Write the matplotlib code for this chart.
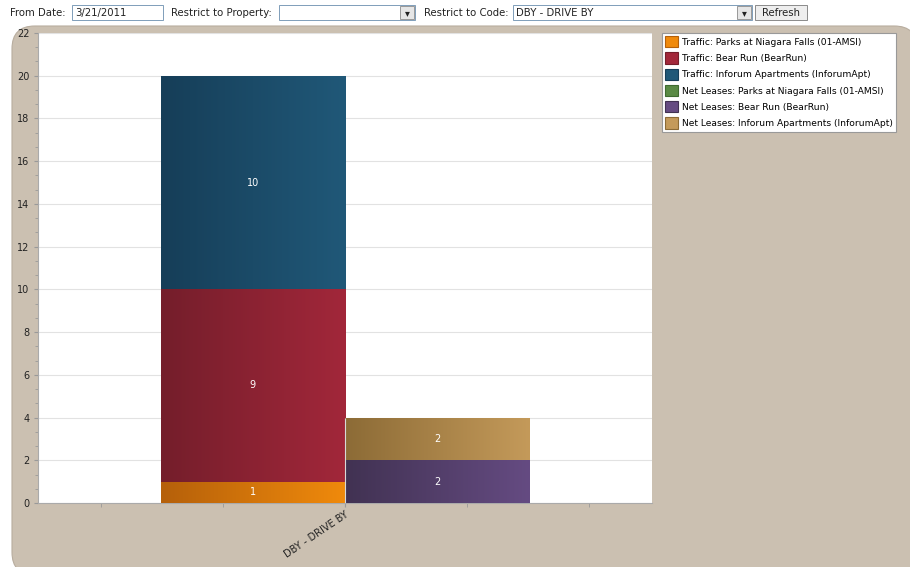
import numpy as np
import matplotlib
matplotlib.use('Agg')
import matplotlib.pyplot as plt
from matplotlib.patches import FancyBboxPatch, Rectangle
from matplotlib.colors import LinearSegmentedColormap
from matplotlib.ticker import MultipleLocator

category = 'DBY - DRIVE BY'
groups = ['Traffic', 'Net Leases']
properties = ['Parks at Niagara Falls (01-AMSI)', 'Bear Run (BearRun)', 'Inforum Apartments (InforumApt)']
traffic = [1, 9, 10]
net_leases = [0, 2, 2]

# dark -> light horizontal gradient per series
traffic_cols = [('#b5600a', '#f08a0c'), ('#741e2b', '#a2273a'), ('#163e58', '#205878')]
lease_cols = [('#3f6b31', '#5a8a45'), ('#413252', '#654b82'), ('#8c6b36', '#c49a5a')]

W, H = 910, 567
fig = plt.figure(figsize=(W / 100, H / 100), dpi=100)
fig.patch.set_facecolor('white')

def fx(x):
    return x / W

def fy(y):
    return 1 - y / H

# tan panel
panel = FancyBboxPatch((fx(12), fy(575)), fx(905), fy(26) - fy(575),
                       boxstyle='round,pad=0,rounding_size=0.025',
                       transform=fig.transFigure, facecolor='#cbc0b1',
                       edgecolor='#b8ad9f', lw=0.8, mutation_aspect=W / H,
                       zorder=-10)
fig.patches.append(panel)

# top controls
tfont = dict(fontsize=7.3, family='DejaVu Sans', color='#222222', va='center')
fig.text(fx(10), fy(13), 'From Date:', **tfont)
fig.text(fx(171), fy(13), 'Restrict to Property:', **tfont)
fig.text(fx(424), fy(13), 'Restrict to Code:', **tfont)
for x0, x1 in [(72, 163), (279, 415), (513, 752)]:
    fig.patches.append(Rectangle((fx(x0), fy(20)), fx(x1 - x0), fy(5) - fy(20),
                                 transform=fig.transFigure, facecolor='white',
                                 edgecolor='#7f9db9', lw=0.7))
fig.text(fx(75), fy(13), '3/21/2011', **tfont)
fig.text(fx(516), fy(13), 'DBY - DRIVE BY', **tfont)
for x0 in [400, 737]:
    fig.patches.append(Rectangle((fx(x0), fy(19)), fx(14), fy(6) - fy(19),
                                 transform=fig.transFigure, facecolor='#e6e6e6',
                                 edgecolor='#8a8a8a', lw=0.6))
    fig.text(fx(x0 + 7), fy(13), '\u25be', ha='center', fontsize=7,
             color='#222222', va='center')
fig.patches.append(Rectangle((fx(755), fy(20)), fx(52), fy(5) - fy(20),
                             transform=fig.transFigure, facecolor='#eeeeee',
                             edgecolor='#8a8a8a', lw=0.7))
fig.text(fx(781), fy(13), 'Refresh', ha='center', fontsize=7.3,
         color='#222222', va='center')

# chart
ax = fig.add_axes([fx(38), fy(503), fx(652 - 38), fy(33) - fy(503)])
ax.set_facecolor('white')

grad = np.linspace(0, 1, 256).reshape(1, -1)

def draw_stack(x_left, values, cols):
    bottom = 0
    for v, (c0, c1) in zip(values, cols):
        if v > 0:
            bar = ax.bar(x_left, v, width=1, bottom=bottom, align='edge',
                         color=c1, edgecolor='none', zorder=2)[0]
            cmap = LinearSegmentedColormap.from_list('g', [c0, c1])
            im = ax.imshow(grad, cmap=cmap, aspect='auto',
                           extent=[x_left, x_left + 1, bottom, bottom + v],
                           zorder=3, interpolation='bilinear')
            im.set_clip_path(bar)
            ax.text(x_left + 0.5, bottom + v / 2, str(v), color='white',
                    ha='center', va='center', fontsize=7, zorder=4)
        bottom += v

draw_stack(-1, traffic, traffic_cols)
draw_stack(0, net_leases, lease_cols)
ax.vlines(0, 0, min(sum(traffic), sum(net_leases)), color='#d8d8d8', lw=0.8, zorder=5)
ax.set_xlim(-1.665, 1.665)
ax.set_ylim(0, 22)

ax.yaxis.set_major_locator(MultipleLocator(2))
ax.yaxis.set_minor_locator(MultipleLocator(2 / 3))
ax.grid(axis='y', which='major', color='#e2e2e2', lw=0.8, zorder=0)
ax.set_axisbelow(True)
ax.tick_params(axis='y', which='major', length=3, color='#999999',
               labelsize=7, labelcolor='#222222', pad=3)
ax.tick_params(axis='y', which='minor', length=2, color='#999999')
step = 122.5 / 185
ax.set_xticks([-2 * step, -step, step, 2 * step], minor=True)
ax.set_xticks([0])
ax.set_xticklabels([category], rotation=34, ha='right', fontsize=7,
                   color='#222222', rotation_mode='anchor')
ax.tick_params(axis='x', which='both', length=3, color='#999999', pad=2)
for side in ['top', 'right']:
    ax.spines[side].set_visible(False)
ax.spines['left'].set_color('#aaaaaa')
ax.spines['bottom'].set_color('#aaaaaa')

# legend
handles = []
labels = []
for g, cols in zip(groups, [traffic_cols, lease_cols]):
    for p, (c0, c1) in zip(properties, cols):
        handles.append(Rectangle((0, 0), 1, 1, facecolor=c1, edgecolor=c0, lw=0.8))
        labels.append(f'{g}: {p}')
leg = fig.legend(handles, labels, loc='upper left',
                 bbox_to_anchor=(fx(662), fy(33)), fontsize=6.6,
                 frameon=True, fancybox=False, framealpha=1, facecolor='white',
                 handlelength=1.4, handleheight=1.5, handletextpad=0.4,
                 labelspacing=0.55, borderpad=0.35, borderaxespad=0)
leg.get_frame().set_edgecolor('#999999')
leg.get_frame().set_linewidth(0.8)

fig.savefig('out.png', dpi=100)
